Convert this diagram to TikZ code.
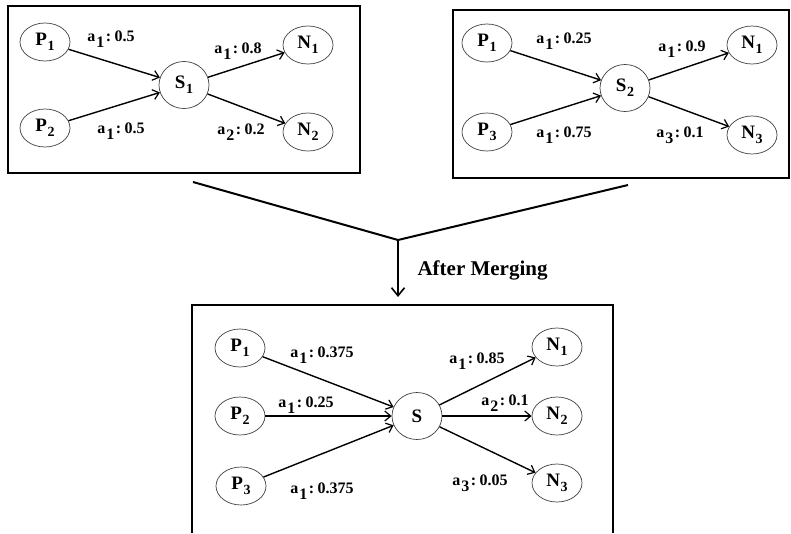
\documentclass[tikz,border=0pt]{standalone}
\usepackage{fontspec}
\setmainfont{Liberation Serif}
\usetikzlibrary{arrows.meta,shapes.geometric}

% node label with a lowered index, e.g. P_1
\newcommand{\nd}[2]{\textbf{#1\kern0.5pt\raisebox{-5pt}{\fontsize{14}{14}\selectfont #2}}}
% weight label "a_i : w"
\newcommand{\wt}[2]{\textbf{a\kern1pt\raisebox{-6pt}{#1}\kern1.5pt:\kern3.5pt #2}}

\tikzset{
  statenode/.style={ellipse, draw=black!75, line width=0.7pt, fill=white,
    minimum width=50pt, minimum height=38pt, inner sep=0pt,
    font=\fontsize{19}{19}\selectfont},
  hubnode/.style={statenode, minimum width=50pt, minimum height=47pt},
  edge/.style={line width=1.4pt, -{Straight Barb[length=6pt,width=10pt,line width=1.2pt]}},
  weight/.style={inner sep=0pt, font=\fontsize{16}{16}\selectfont},
  frame/.style={line width=1.8pt},
  merge/.style={line width=2pt},
}

\begin{document}
\begin{tikzpicture}[x=1pt,y=-1pt]
\useasboundingbox (0,0) rectangle (791,533);

% ---- first source graph ----
\draw[frame] (8,6) rectangle (360,173);
\node[statenode] (ap1) at (45,42)  {\nd{P}{1}};
\node[statenode] (ap2) at (45,128) {\nd{P}{2}};
\node[hubnode]   (as)  at (184,85) {\nd{S}{1}};
\node[statenode] (an1) at (308,45) {\nd{N}{1}};
\node[statenode] (an2) at (308,132){\nd{N}{2}};
\draw[edge] (ap1) -- (as);
\draw[edge] (ap2) -- (as);
\draw[edge] (as) -- (an1);
\draw[edge] (as) -- (an2);
\node[weight] (aw1) at (111,39)  {\wt{1}{0.5}};
\node[weight] (aw2) at (121,131) {\wt{1}{0.5}};
\node[weight] (aw3) at (238,51)  {\wt{1}{0.8}};
\node[weight] (aw4) at (241,132) {\wt{2}{0.2}};

% ---- second source graph ----
\draw[frame] (453,10) rectangle (789,178);
\node[statenode] (bp1) at (487,43)  {\nd{P}{1}};
\node[statenode] (bp3) at (487,132) {\nd{P}{3}};
\node[hubnode]   (bs)  at (625,88)  {\nd{S}{2}};
\node[statenode] (bn1) at (752,45)  {\nd{N}{1}};
\node[statenode] (bn3) at (752,135) {\nd{N}{3}};
\draw[edge] (bp1) -- (bs);
\draw[edge] (bp3) -- (bs);
\draw[edge] (bs) -- (bn1);
\draw[edge] (bs) -- (bn3);
\node[weight] (bw1) at (564,41)  {\wt{1}{0.25}};
\node[weight] (bw2) at (564,135) {\wt{1}{0.75}};
\node[weight] (bw3) at (682,49)  {\wt{1}{0.9}};
\node[weight] (bw4) at (680,135) {\wt{3}{0.1}};

% ---- merge funnel ----
\coordinate (ml) at (193,182);
\coordinate (mv) at (398,240);
\coordinate (mr) at (628,185);
\coordinate (mt) at (398,297);
\draw[merge, line join=miter] (ml) -- (mv) -- (mr);
\draw[merge, -{Straight Barb[length=8pt,width=13pt,line width=1.6pt]}] (mv) -- (mt);
\node[font=\fontsize{21}{21}\selectfont\bfseries, anchor=west] (am) at (414,270) {After Merging};

% ---- merged graph ----
\draw[frame] (192,533) -- (192,305) -- (613,305) -- (613,533);
\node[statenode] (cp1) at (240,348) {\nd{P}{1}};
\node[statenode] (cp2) at (240,416) {\nd{P}{2}};
\node[statenode] (cp3) at (241,486) {\nd{P}{3}};
\node[hubnode]   (cs)  at (417,416) {\textbf{S}};
\node[statenode] (cn1) at (557,347) {\nd{N}{1}};
\node[statenode] (cn2) at (557,416) {\nd{N}{2}};
\node[statenode] (cn3) at (557,483) {\nd{N}{3}};
\draw[edge] (cp1) -- (cs);
\draw[edge] (cp2) -- (cs);
\draw[edge] (cp3) -- (cs);
\draw[edge] (cs) -- (cn1);
\draw[edge] (cs) -- (cn2);
\draw[edge] (cs) -- (cn3);
\node[weight] (cw1) at (322,355) {\wt{1}{0.375}};
\node[weight] (cw2) at (306,405) {\wt{1}{0.25}};
\node[weight] (cw3) at (322,491) {\wt{1}{0.375}};
\node[weight] (cw4) at (477,361) {\wt{1}{0.85}};
\node[weight] (cw5) at (505,403) {\wt{2}{0.1}};
\node[weight] (cw6) at (480,483) {\wt{3}{0.05}};
\end{tikzpicture}
\end{document}
